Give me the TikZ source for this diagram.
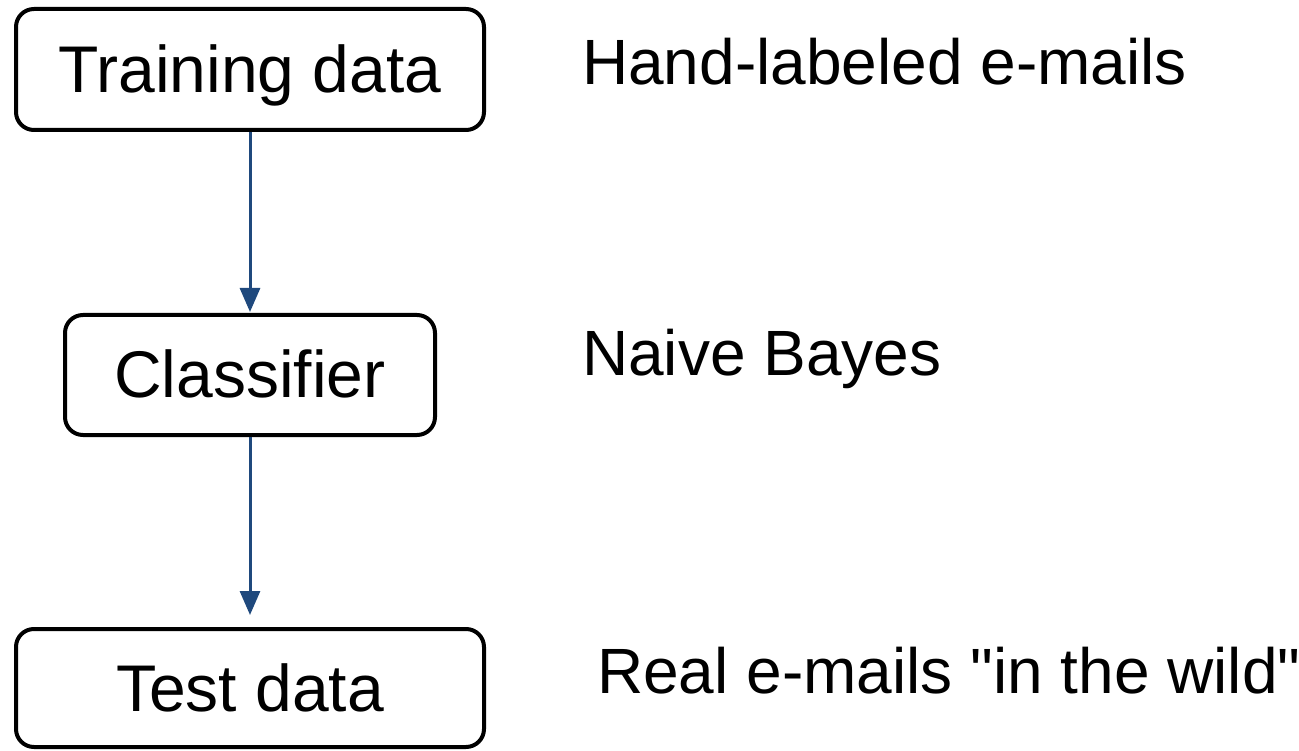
\documentclass[tikz,border=0pt]{standalone}
\usepackage{fontspec}
\newfontfamily\arialfont{Liberation Sans}
\usetikzlibrary{arrows.meta}
\definecolor{arrowblue}{HTML}{1F497D}
\begin{document}
\begin{tikzpicture}[x=1pt,y=-1pt,
  box/.style={draw=black,line width=4pt,rounded corners=18pt,inner sep=0pt,
    text height=46pt,text depth=0pt,font=\arialfont\fontsize{66}{78}\selectfont},
  lbl/.style={anchor=base west,inner sep=0pt,font=\arialfont\fontsize{64}{76}\selectfont},
  flow/.style={draw=arrowblue,line width=3pt,-{Triangle[width=20pt,length=24pt]}}]
\useasboundingbox (0,0) rectangle (1299,751);
\node[box,minimum width=468pt,minimum height=121pt] (train) at (250,69.5) {Training data};
\node[box,minimum width=370pt,minimum height=120pt] (clf) at (250,375) {Classifier};
\node[box,minimum width=468pt,minimum height=118pt] (test) at (250,688) {Test data};
\node[lbl] (l1) at (582,85) {Hand-labeled e-mails};
\node[lbl] (l2) at (582,375) {Naive Bayes};
\node[lbl] (l3) at (597,693) {Real e-mails "in the wild"};
\draw[flow,shorten >=1pt] (train) -- (clf);
\draw[flow,shorten >=12pt] (clf) -- (test);
\end{tikzpicture}
\end{document}
